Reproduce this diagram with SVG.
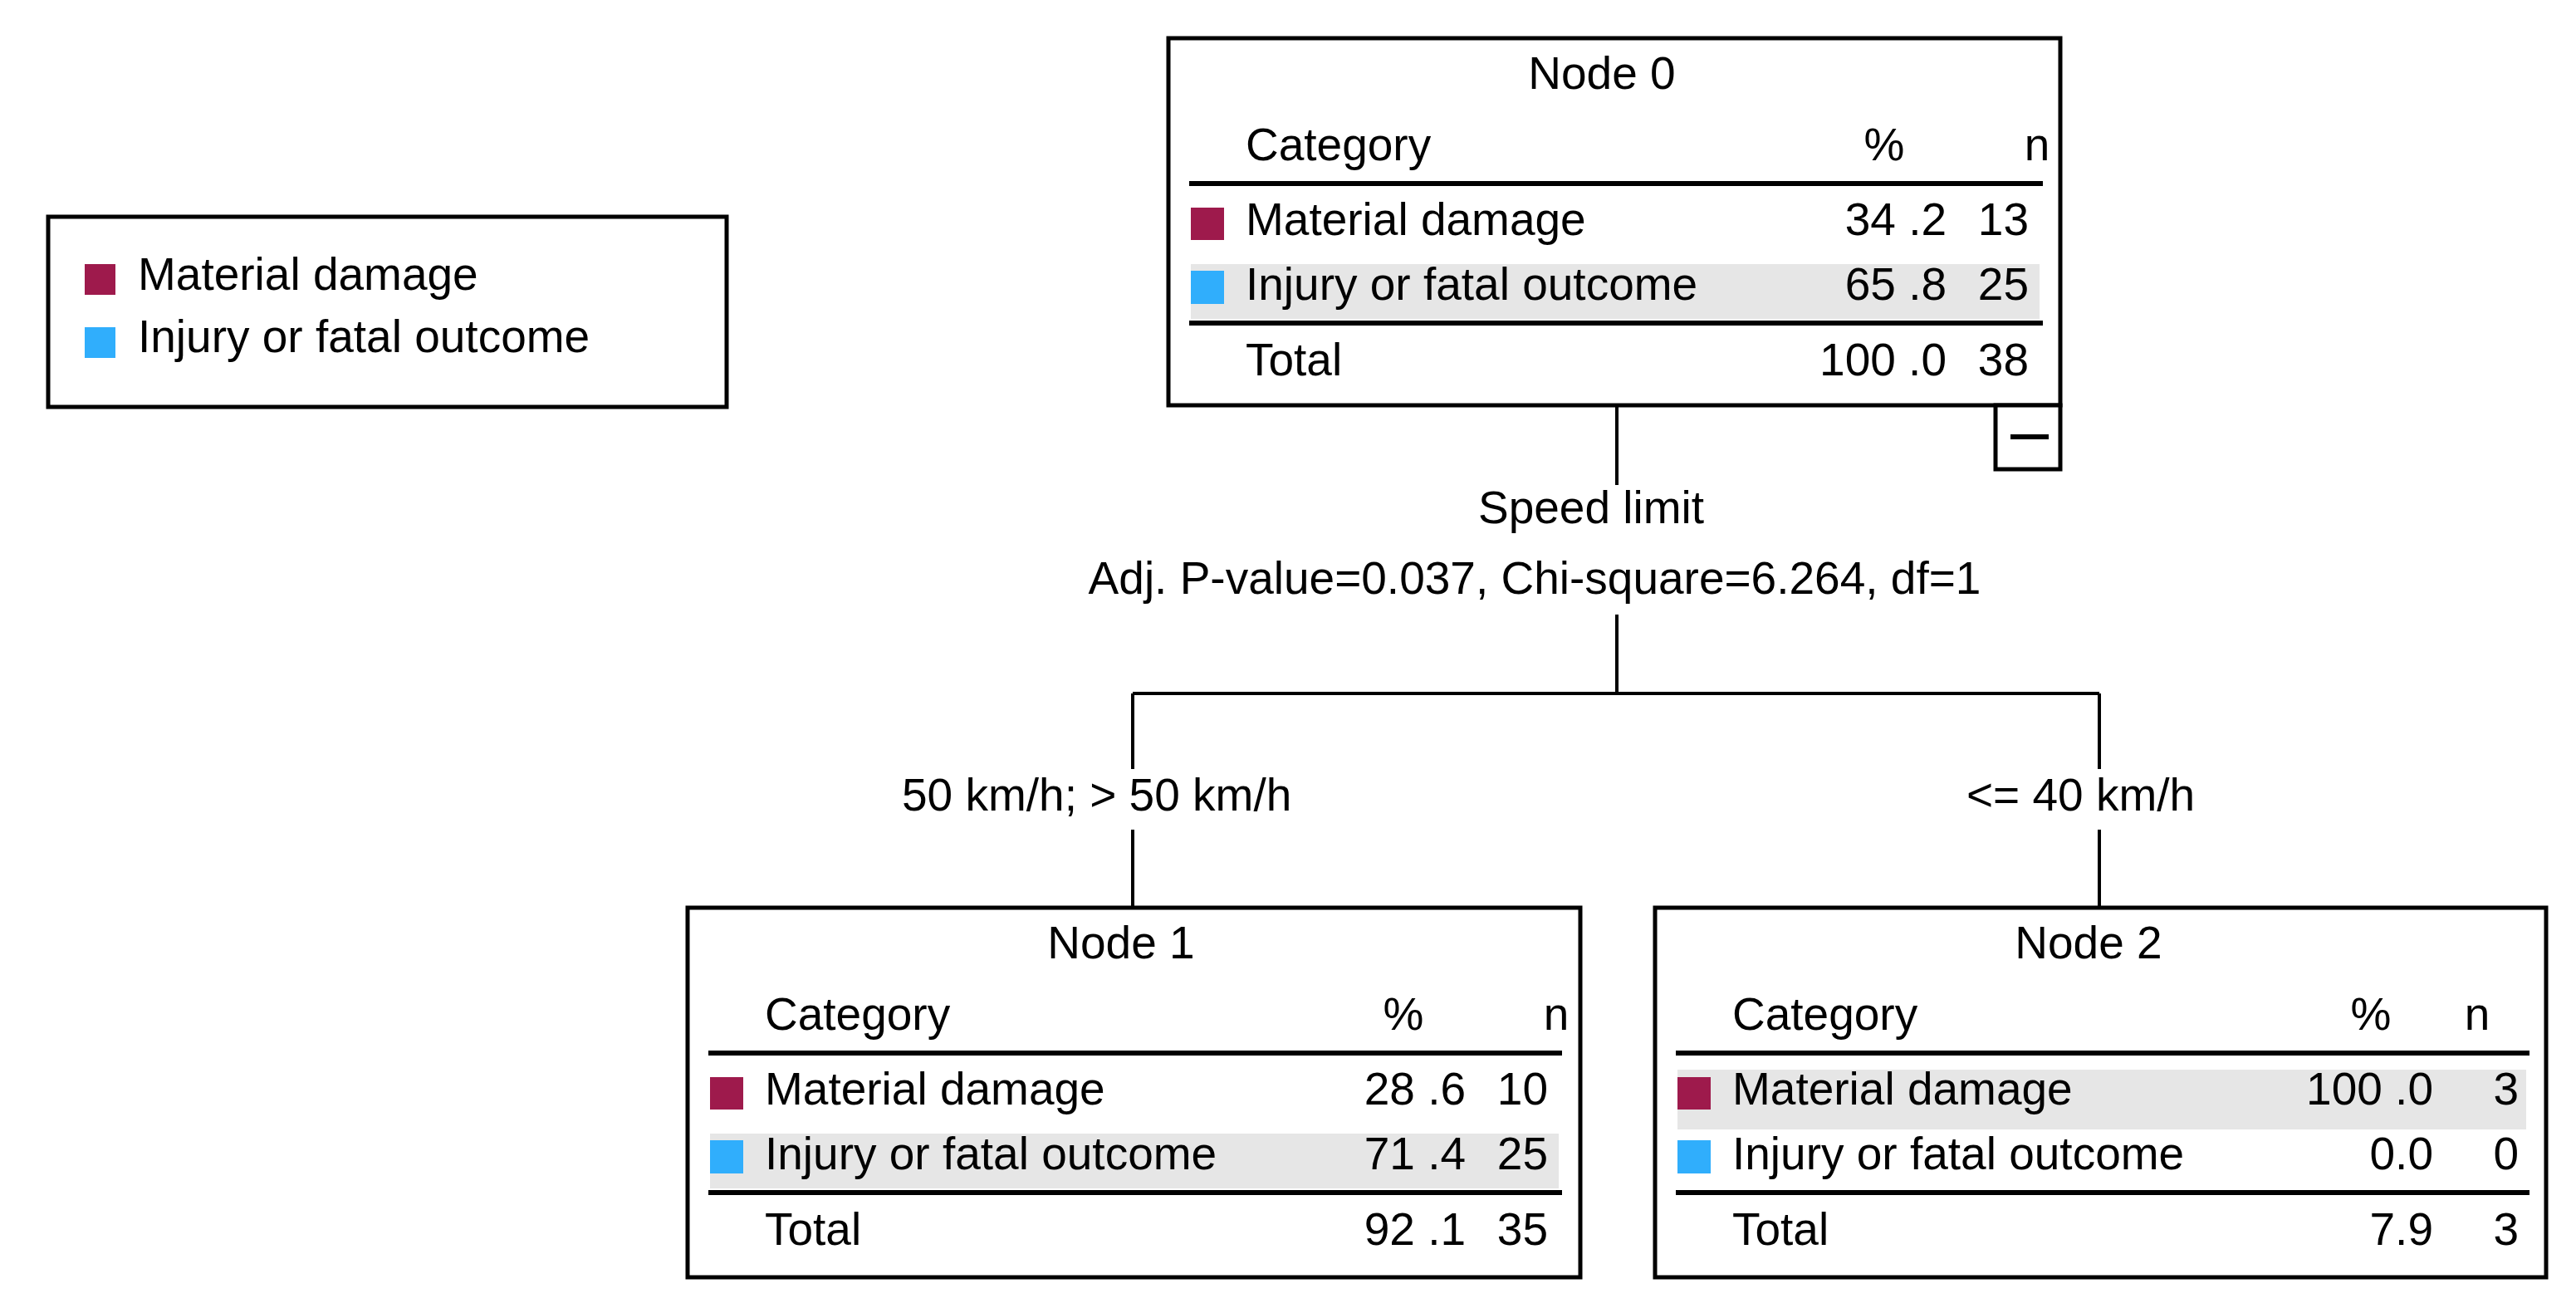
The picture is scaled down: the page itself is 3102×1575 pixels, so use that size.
<svg xmlns="http://www.w3.org/2000/svg" width="3102" height="1575" viewBox="0 0 3102 1575">
<style>
text{font-family:"Liberation Sans",Arial,sans-serif;font-size:55px;fill:#000}
.box{fill:#fff;stroke:#000;stroke-width:5}
.rule{stroke:#000;stroke-width:6}
.md{fill:#9e1a4c}
.inj{fill:#30aefc}
.band{fill:#e6e6e6}
.mid{text-anchor:middle}
.end{text-anchor:end}
.conn{fill:none;stroke:#000;stroke-width:4}
</style>
<rect width="3102" height="1575" fill="#fff"/>
<g id="legend">
<rect class="box" x="58" y="261" width="817" height="229"/>
<rect class="md" x="102" y="318" width="37" height="37"/>
<text x="166" y="349">Material damage</text>
<rect class="inj" x="102" y="394" width="37" height="37"/>
<text x="166" y="424">Injury or fatal outcome</text>
</g>
<g id="connectors">
<path class="conn" d="M1947 488V584M1947 740V835M1364 835H2528M1364 835V926M1364 999V1093M2528 835V926M2528 999V1093"/>
<text class="mid" x="1916" y="630">Speed limit</text>
<text class="mid" x="1848" y="715">Adj. P-value=0.037, Chi-square=6.264, df=1</text>
<text x="1086" y="976">50 km/h; &gt; 50 km/h</text>
<text x="2368" y="976">&lt;= 40 km/h</text>
</g>
<g id="node0" transform="translate(1407,46)">
<rect class="box" x="0" y="0" width="1074" height="442"/>
<text class="mid" x="522" y="61">Node 0</text>
<text x="93" y="147">Category</text>
<text class="mid" x="862" y="147">%</text>
<text class="mid" x="1046" y="147">n</text>
<line class="rule" x1="25" y1="175" x2="1053" y2="175"/>
<rect class="md" x="27" y="204" width="40" height="39"/>
<text x="93" y="237">Material damage</text>
<text class="end" x="937" y="237">34 .2</text>
<text class="end" x="1036" y="237">13</text>
<rect class="band" x="27" y="272" width="1022" height="66"/>
<rect class="inj" x="27" y="280" width="40" height="40"/>
<text x="93" y="315">Injury or fatal outcome</text>
<text class="end" x="937" y="315">65 .8</text>
<text class="end" x="1036" y="315">25</text>
<line class="rule" x1="25" y1="343" x2="1053" y2="343"/>
<text x="93" y="406">Total</text>
<text class="end" x="937" y="406">100 .0</text>
<text class="end" x="1036" y="406">38</text>
</g>
<g id="collapse">
<rect class="box" x="2403" y="488" width="78" height="77"/>
<line class="rule" x1="2421" y1="526" x2="2467" y2="526"/>
</g>
<g id="node1" transform="translate(828,1093)">
<rect class="box" x="0" y="0" width="1075" height="445"/>
<text class="mid" x="522" y="61">Node 1</text>
<text x="93" y="147">Category</text>
<text class="mid" x="862" y="147">%</text>
<text class="mid" x="1046" y="147">n</text>
<line class="rule" x1="25" y1="175" x2="1053" y2="175"/>
<rect class="md" x="27" y="204" width="40" height="39"/>
<text x="93" y="237">Material damage</text>
<text class="end" x="937" y="237">28 .6</text>
<text class="end" x="1036" y="237">10</text>
<rect class="band" x="27" y="272" width="1022" height="66"/>
<rect class="inj" x="27" y="280" width="40" height="40"/>
<text x="93" y="315">Injury or fatal outcome</text>
<text class="end" x="937" y="315">71 .4</text>
<text class="end" x="1036" y="315">25</text>
<line class="rule" x1="25" y1="343" x2="1053" y2="343"/>
<text x="93" y="406">Total</text>
<text class="end" x="937" y="406">92 .1</text>
<text class="end" x="1036" y="406">35</text>
</g>
<g id="node2" transform="translate(1993,1093)">
<rect class="box" x="0" y="0" width="1073" height="445"/>
<text class="mid" x="522" y="61">Node 2</text>
<text x="93" y="147">Category</text>
<text class="mid" x="862" y="147">%</text>
<text class="mid" x="990" y="147">n</text>
<line class="rule" x1="25" y1="175" x2="1053" y2="175"/>
<rect class="band" x="27" y="195" width="1022" height="72"/>
<rect class="md" x="27" y="204" width="40" height="39"/>
<text x="93" y="237">Material damage</text>
<text class="end" x="937" y="237">100 .0</text>
<text class="end" x="1040" y="237">3</text>
<rect class="inj" x="27" y="280" width="40" height="40"/>
<text x="93" y="315">Injury or fatal outcome</text>
<text class="end" x="937" y="315">0.0</text>
<text class="end" x="1040" y="315">0</text>
<line class="rule" x1="25" y1="343" x2="1053" y2="343"/>
<text x="93" y="406">Total</text>
<text class="end" x="937" y="406">7.9</text>
<text class="end" x="1040" y="406">3</text>
</g>
</svg>
